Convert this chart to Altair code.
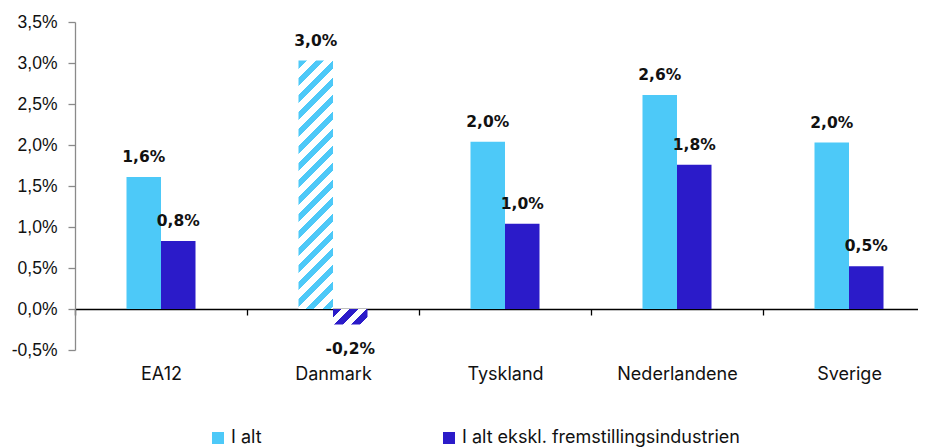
import altair as alt
import pandas as pd

categories = ["EA12", "Danmark", "Tyskland", "Nederlandene", "Sverige"]
series = ["I alt", "I alt ekskl. fremstillingsindustrien"]
i_alt = [0.0161, 0.0303, 0.0204, 0.0261, 0.0203]
ekskl = [0.0083, -0.0019, 0.0104, 0.0176, 0.0052]
hatched_category = "Danmark"

colors = ["#4DC9F8", "#2B1BC9"]

rows = []
for c, a, b in zip(categories, i_alt, ekskl):
    rows.append({"land": c, "serie": series[0], "v": a})
    rows.append({"land": c, "serie": series[1], "v": b})
df = pd.DataFrame(rows)

# layout constants
W, H = 843, 328
STEP = 172
BAR_W = 34.5
YMIN, YMAX = -0.005, 0.035
PX_PER_UNIT = H / (YMAX - YMIN)
GROUP_START = (STEP - 2 * BAR_W) / 2


def hatch(color, w, h, period=17.0, frac=0.5):
    L = w + h
    p = period / L
    stops = []
    k = 0
    while k * p < 1:
        a = k * p
        b = min(1.0, a + frac * p)
        c = min(1.0, (k + 1) * p)
        stops += [
            {"offset": a, "color": color},
            {"offset": b, "color": color},
            {"offset": b, "color": "#ffffff"},
            {"offset": c, "color": "#ffffff"},
        ]
        k += 1
    d = w * w + h * h
    return {"gradient": "linear", "x1": 0, "y1": 0,
            "x2": w * L / d, "y2": h * L / d, "stops": stops}


dk = categories.index(hatched_category)
grad_ialt = hatch(colors[0], BAR_W, abs(i_alt[dk]) * PX_PER_UNIT)
grad_ekskl = hatch(colors[1], BAR_W, abs(ekskl[dk]) * PX_PER_UNIT)

x_enc = alt.X(
    "land:N",
    sort=categories,
    scale=alt.Scale(domain=categories, range=[0, STEP * len(categories)],
                    paddingInner=0, paddingOuter=0),
    axis=alt.Axis(
        title=None, labelAngle=0, orient="bottom", offset=-41, grid=False,
        domainColor="#000000", domainWidth=1.3,
        ticks=True, tickBand="extent", tickColor="#000000", tickSize=6, tickWidth=1.3,
        labelPadding=50, labelFont="Inter", labelFontSize=18, labelColor="#111111",
    ),
)
xoff_enc = alt.XOffset(
    "serie:N", sort=series,
    scale=alt.Scale(domain=series, paddingInner=0, paddingOuter=0,
                    range=[GROUP_START, GROUP_START + 2 * BAR_W]),
)
y_enc = alt.Y(
    "v:Q",
    scale=alt.Scale(domain=[YMIN, YMAX], nice=False, zero=False),
    axis=alt.Axis(
        title=None, format=".1%",
        values=[-0.005, 0.0, 0.005, 0.01, 0.015, 0.02, 0.025, 0.03, 0.035],
        grid=False, domainColor="#8a8a8a", domainWidth=1.3,
        tickColor="#8a8a8a", tickSize=7, tickWidth=1.3,
        labelPadding=11, labelFont="Liberation Sans", labelFontSize=17.5,
        labelColor="#111111",
    ),
)

base = alt.Chart(df)

bars = base.transform_filter(alt.datum.land != hatched_category).mark_bar().encode(
    x=x_enc,
    xOffset=xoff_enc,
    y=y_enc,
    color=alt.Color(
        "serie:N",
        sort=series,
        scale=alt.Scale(domain=series, range=colors),
        legend=alt.Legend(
            title=None, orient="none", legendX=134, legendY=407,
            direction="horizontal", symbolType="square", symbolSize=144,
            symbolStrokeWidth=0, labelOffset=4, columnPadding=178, labelLimit=600,
            labelFont="Inter", labelFontSize=18, labelColor="#111111", padding=0,
        ),
    ),
)

hatch1 = base.transform_filter(
    (alt.datum.land == hatched_category) & (alt.datum.serie == series[0])
).mark_bar(fill=grad_ialt).encode(x=x_enc, xOffset=xoff_enc, y=y_enc)

hatch2 = base.transform_filter(
    (alt.datum.land == hatched_category) & (alt.datum.serie == series[1])
).mark_bar(fill=grad_ekskl).encode(x=x_enc, xOffset=xoff_enc, y=y_enc)

lbl_pos = base.transform_filter(alt.datum.v >= 0).mark_text(
    dy=-15, baseline="alphabetic", font="DejaVu Sans", fontWeight="bold",
    fontSize=15.5, color="#111111",
).encode(x=x_enc, xOffset=xoff_enc, y=y_enc, text=alt.Text("v:Q", format=".1%"))

lbl_neg = base.transform_filter(alt.datum.v < 0).mark_text(
    dy=29, baseline="alphabetic", font="DejaVu Sans", fontWeight="bold",
    fontSize=15.5, color="#111111",
).encode(x=x_enc, xOffset=xoff_enc, y=y_enc, text=alt.Text("v:Q", format=".1%"))

chart = alt.layer(bars, hatch1, hatch2, lbl_pos, lbl_neg).properties(
    width=W, height=H,
    autosize=alt.AutoSizeParams(type="none"),
    padding={"left": 67, "top": 14, "right": 0, "bottom": 98},
).configure(
    locale={"number": {"decimal": ",", "thousands": ".", "grouping": [3],
                       "currency": ["", " kr."], "minus": "-"}}
).configure_view(strokeWidth=0, stroke="transparent")

chart.save("out.html", embed_options={"renderer": "svg", "actions": False})
